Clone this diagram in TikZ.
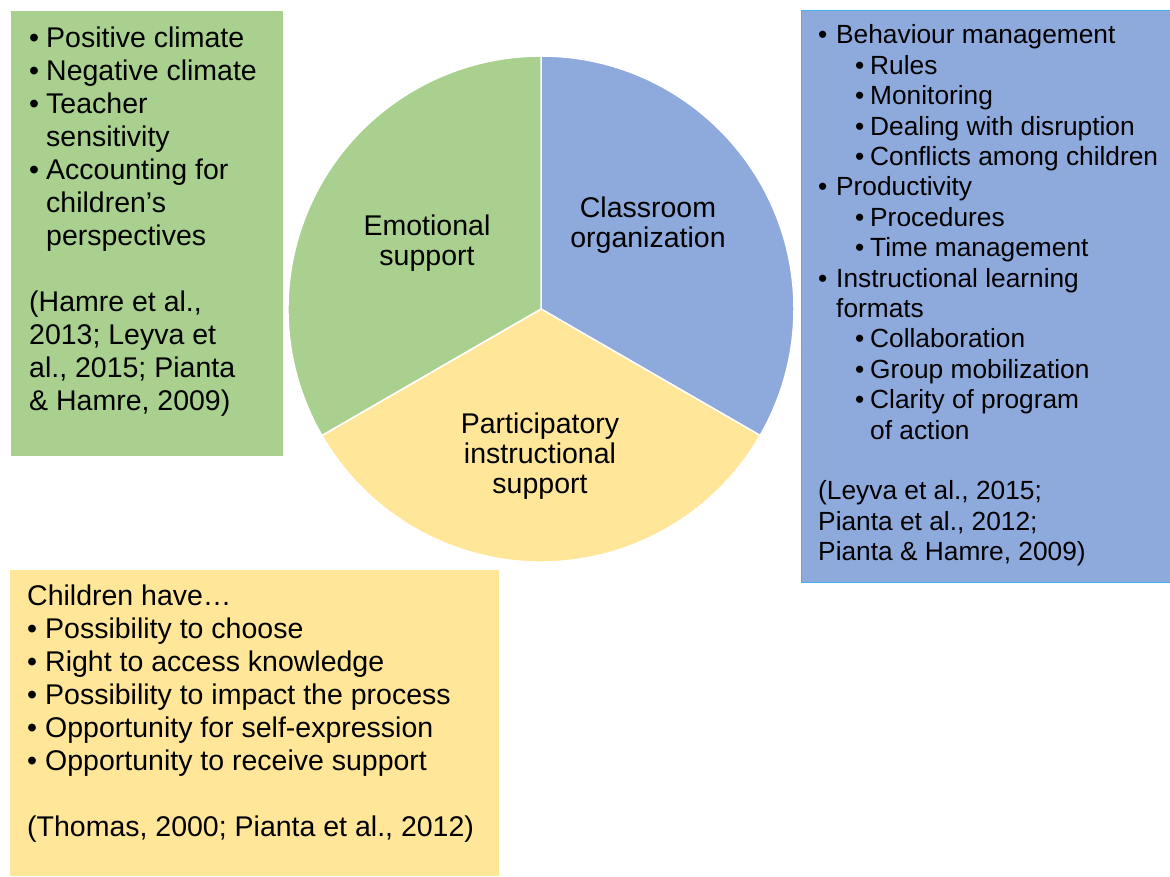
\documentclass[tikz,border=0pt]{standalone}
\usepackage{fontspec}
\setmainfont{Liberation Sans}
\definecolor{pgreen}{HTML}{A9D08E}
\definecolor{pblue}{HTML}{8EA9DB}
\definecolor{pyellow}{HTML}{FFE699}
\definecolor{bborder}{HTML}{3FB4E6}
\newcommand{\bA}[1]{\makebox[#1][l]{•}}
\begin{document}
\begin{tikzpicture}[x=1pt,y=1pt,
  slice/.style={draw=white, line width=1.5pt},
  plabel/.style={align=center, font=\fontsize{28.5}{30}\selectfont, inner sep=0pt},
  boxtext/.style={anchor=base west, inner sep=0pt},
  bigfont/.style={font=\fontsize{28.5}{33}\selectfont},
  smallfont/.style={font=\fontsize{26.3}{30.4}\selectfont}]
\useasboundingbox (0,0) rectangle (1170,876);
\coordinate (c) at (541,567);
% pie slices
\filldraw[slice, fill=pblue] (c) -- ++(90:253) arc[start angle=90, end angle=-30, radius=253] -- cycle;
\filldraw[slice, fill=pyellow] (c) -- ++(-30:253) arc[start angle=-30, end angle=-150, radius=253] -- cycle;
\filldraw[slice, fill=pgreen] (c) -- ++(210:253) arc[start angle=210, end angle=90, radius=253] -- cycle;
\node[plabel] (emo) at (427,633) {Emotional\\support};
\node[plabel] (cls) at (648,651) {Classroom\\organization};
\node[plabel] (par) at (540,420) {Participatory\\instructional\\support};
% boxes
\node[fill=pgreen, inner sep=0pt, minimum width=272pt, minimum height=445pt, anchor=north west] (gbox) at (11,865) {};
\node[fill=pblue, draw=bborder, line width=1pt, inner sep=0pt, minimum width=370pt, minimum height=572pt, anchor=north west] (bbox) at (801,866) {};
\node[fill=pyellow, inner sep=0pt, minimum width=489pt, minimum height=306pt, anchor=north west] (ybox) at (10,306) {};
% green text
\node[boxtext, bigfont] (gtext) at (29,828) {\begin{tabular}[t]{@{}l@{}}
\bA{17pt}Positive climate\\
\bA{17pt}Negative climate\\
\bA{17pt}Teacher\\
\hspace{17pt}sensitivity\\
\bA{17pt}Accounting for\\
\hspace{17pt}children’s\\
\hspace{17pt}perspectives\\
\\
(Hamre et al.,\\
2013; Leyva et\\
al., 2015; Pianta\\
\& Hamre, 2009)
\end{tabular}};
% blue text
\node[boxtext, smallfont] (btext) at (818,832) {\begin{tabular}[t]{@{}l@{}}
\bA{18pt}Behaviour management\\
\hspace{37pt}\bA{15pt}Rules\\
\hspace{37pt}\bA{15pt}Monitoring\\
\hspace{37pt}\bA{15pt}Dealing with disruption\\
\hspace{37pt}\bA{15pt}Conflicts among children\\
\bA{18pt}Productivity\\
\hspace{37pt}\bA{15pt}Procedures\\
\hspace{37pt}\bA{15pt}Time management\\
\bA{18pt}Instructional learning\\
\hspace{18pt}formats\\
\hspace{37pt}\bA{15pt}Collaboration\\
\hspace{37pt}\bA{15pt}Group mobilization\\
\hspace{37pt}\bA{15pt}Clarity of program\\
\hspace{52pt}of action\\
\\
(Leyva et al., 2015;\\
Pianta et al., 2012;\\
Pianta \& Hamre, 2009)
\end{tabular}};
% yellow text
\node[boxtext, bigfont] (ytext) at (27,270) {\begin{tabular}[t]{@{}l@{}}
Children have…\\
\bA{18pt}Possibility to choose\\
\bA{18pt}Right to access knowledge\\
\bA{18pt}Possibility to impact the process\\
\bA{18pt}Opportunity for self-expression\\
\bA{18pt}Opportunity to receive support\\
\\
(Thomas, 2000; Pianta et al., 2012)
\end{tabular}};
\end{tikzpicture}
\end{document}
